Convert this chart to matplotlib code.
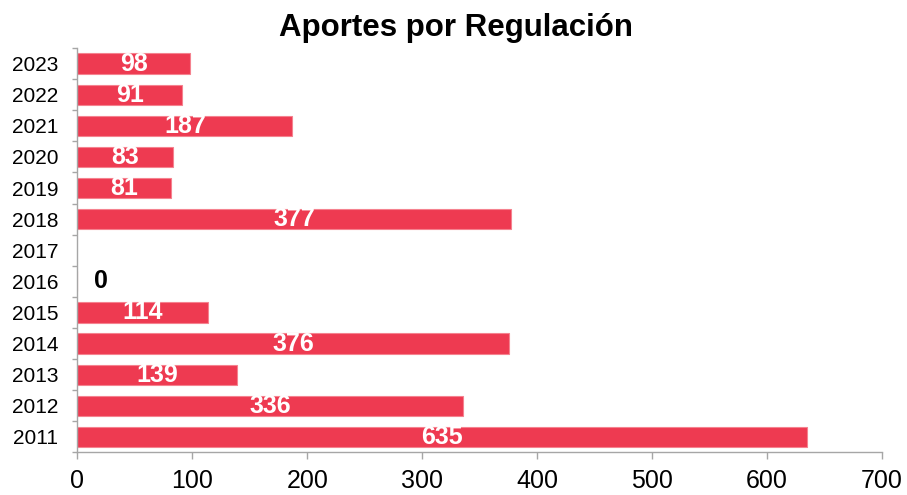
import numpy as np
import matplotlib
matplotlib.use("Agg")
import matplotlib.pyplot as plt
from matplotlib.ticker import FixedLocator

plt.rcParams['font.family'] = ['Liberation Sans', 'DejaVu Sans']

title = "Aportes por Regulación"
years = ["2011", "2012", "2013", "2014", "2015", "2016", "2017",
         "2018", "2019", "2020", "2021", "2022", "2023"]
values = [635, 336, 139, 376, 114, 0, np.nan, 377, 81, 83, 187, 91, 98]
xticks = [0, 100, 200, 300, 400, 500, 600, 700]

bar_color = "#EE3A51"
edge_color = "#F5828F"
axis_color = "#A6A6A6"

fig = plt.figure(figsize=(9.07, 4.95), dpi=100)
ax = fig.add_axes([0.0854, 0.0859, 0.9721 - 0.0854, 0.903 - 0.0859])

y = np.arange(len(years))
vals = np.array(values, dtype=float)
mask = ~np.isnan(vals)
ax.barh(y[mask], vals[mask], height=0.65, color=bar_color,
        edgecolor=edge_color, linewidth=0.8, zorder=2)

for yi, v in zip(y, vals):
    if np.isnan(v):
        continue
    if v == 0:
        ax.annotate("0", xy=(0, yi), xytext=(17, 0), textcoords="offset points",
                    ha="center", va="center", fontsize=18, fontweight="bold",
                    color="black")
    else:
        ax.text(v / 2, yi, f"{int(v)}", ha="center", va="center",
                fontsize=18, fontweight="bold", color="white", zorder=3)

ax.set_xlim(0, 700)
ax.set_ylim(-0.5, len(years) - 0.5)
ax.set_xticks(xticks)
ax.set_xticklabels([str(t) for t in xticks], fontsize=18)
ax.set_yticks(y)
ax.set_yticklabels(years, fontsize=15)
ax.yaxis.set_minor_locator(FixedLocator(np.arange(-0.5, len(years), 1.0)))

ax.tick_params(axis="y", which="major", length=0, pad=14)
ax.tick_params(axis="y", which="minor", length=3.8, width=1, color=axis_color)
ax.tick_params(axis="x", which="major", length=4.7, width=1, color=axis_color, pad=7)

for s in ["top", "right"]:
    ax.spines[s].set_visible(False)
for s in ["left", "bottom"]:
    ax.spines[s].set_color(axis_color)
    ax.spines[s].set_linewidth(1)

fig.text(0.503, 0.928, title, ha="center", va="baseline",
         fontsize=22.5, fontweight="bold")

fig.savefig("out.png", dpi=100)
